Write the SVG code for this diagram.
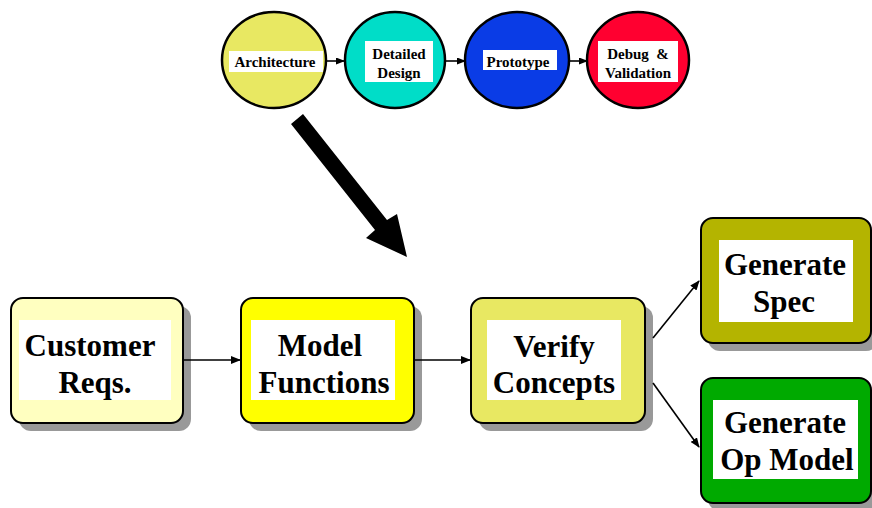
<svg xmlns="http://www.w3.org/2000/svg" width="872" height="508" viewBox="0 0 872 508">
<style>
text{font-family:"Liberation Serif","Times New Roman","DejaVu Serif",serif;font-weight:bold;fill:#000;text-anchor:middle}
.big{font-size:31px}
.sm{font-size:15px}
.box{stroke:#000;stroke-width:2}
.sh{fill:#999}
.lbl{fill:#fff}
.circ{stroke:#000;stroke-width:2.5}
.con{stroke:#000;stroke-width:1.6;fill:none}
</style>
<defs>
<marker id="ah" markerWidth="10" markerHeight="8" refX="9" refY="4" orient="auto" markerUnits="userSpaceOnUse">
<path d="M0,0 L10,4 L0,8 Z" fill="#000"/>
</marker>
<marker id="ahs" markerWidth="9" markerHeight="7" refX="8" refY="3.5" orient="auto" markerUnits="userSpaceOnUse">
<path d="M0,0 L9,3.5 L0,7 Z" fill="#000"/>
</marker>
</defs>
<rect width="872" height="508" fill="#fff"/>

<g id="architecture">
<ellipse class="circ" cx="274" cy="60" rx="52" ry="48" fill="#E8E862"/>
<rect class="lbl" x="229" y="51" width="94" height="21"/>
<text class="sm" x="275" y="67">Architecture</text>
</g>
<g id="detailed-design">
<ellipse class="circ" cx="395" cy="60" rx="50" ry="48" fill="#00DDC8"/>
<rect class="lbl" x="365" y="41" width="68" height="41"/>
<text class="sm" x="399" y="59">Detailed</text>
<text class="sm" x="399" y="78">Design</text>
</g>
<g id="prototype">
<ellipse class="circ" cx="517" cy="60" rx="52" ry="48" fill="#0A3CE6"/>
<rect class="lbl" x="483" y="50" width="74" height="20"/>
<text class="sm" x="518" y="67">Prototype</text>
</g>
<g id="debug-validation">
<ellipse class="circ" cx="638" cy="60" rx="51" ry="48" fill="#FF0030"/>
<rect class="lbl" x="598" y="41" width="80" height="41"/>
<text class="sm" x="638" y="59" xml:space="preserve">Debug  &amp;</text>
<text class="sm" x="638" y="78">Validation</text>
</g>

<g id="customer-reqs">
<rect class="sh" x="19" y="306" width="172" height="125" rx="12"/>
<rect class="box" x="11" y="298" width="172" height="125" rx="12" fill="#FFFFC0"/>
<rect class="lbl" x="19" y="320" width="152" height="80"/>
<text class="big" x="90" y="356">Customer</text>
<text class="big" x="95" y="393">Reqs.</text>
</g>
<g id="model-functions">
<rect class="sh" x="249" y="306" width="173" height="125" rx="12"/>
<rect class="box" x="241" y="298" width="173" height="125" rx="12" fill="#FFFF00"/>
<rect class="lbl" x="251" y="320" width="144" height="80"/>
<text class="big" x="320" y="356">Model</text>
<text class="big" x="324" y="393">Functions</text>
</g>
<g id="verify-concepts">
<rect class="sh" x="479" y="306" width="174" height="125" rx="12"/>
<rect class="box" x="471" y="298" width="174" height="125" rx="12" fill="#E8E862"/>
<rect class="lbl" x="487" y="320" width="134" height="80"/>
<text class="big" x="554" y="357">Verify</text>
<text class="big" x="554" y="393">Concepts</text>
</g>
<g id="generate-spec">
<rect class="sh" x="708" y="226" width="170" height="125" rx="12"/>
<rect class="box" x="701" y="218" width="170" height="125" rx="12" fill="#B4B400"/>
<rect class="lbl" x="719" y="240" width="134" height="82"/>
<text class="big" x="785" y="275">Generate</text>
<text class="big" x="784" y="312">Spec</text>
</g>
<g id="generate-op-model">
<rect class="sh" x="708" y="386" width="170" height="125" rx="12"/>
<rect class="box" x="701" y="378" width="170" height="125" rx="12" fill="#00AA00"/>
<rect class="lbl" x="713" y="400" width="145" height="79"/>
<text class="big" x="785" y="433">Generate</text>
<text class="big" x="787" y="470">Op Model</text>
</g>

<g id="connectors">
<line class="con" x1="326" y1="61" x2="344" y2="61" marker-end="url(#ahs)"/>
<line class="con" x1="445" y1="61" x2="465" y2="61" marker-end="url(#ahs)"/>
<line class="con" x1="570" y1="61" x2="587" y2="61" marker-end="url(#ahs)"/>
<line class="con" x1="183" y1="360" x2="240" y2="360" marker-end="url(#ah)"/>
<line class="con" x1="414" y1="360" x2="470" y2="360" marker-end="url(#ah)"/>
<line class="con" x1="653" y1="338" x2="699" y2="281" marker-end="url(#ah)"/>
<line class="con" x1="653" y1="383" x2="699" y2="447" marker-end="url(#ah)"/>
<polygon points="291,124 303,114 387,220 397,214 407,257 366,238 375,230" fill="#000"/>
</g>
</svg>
